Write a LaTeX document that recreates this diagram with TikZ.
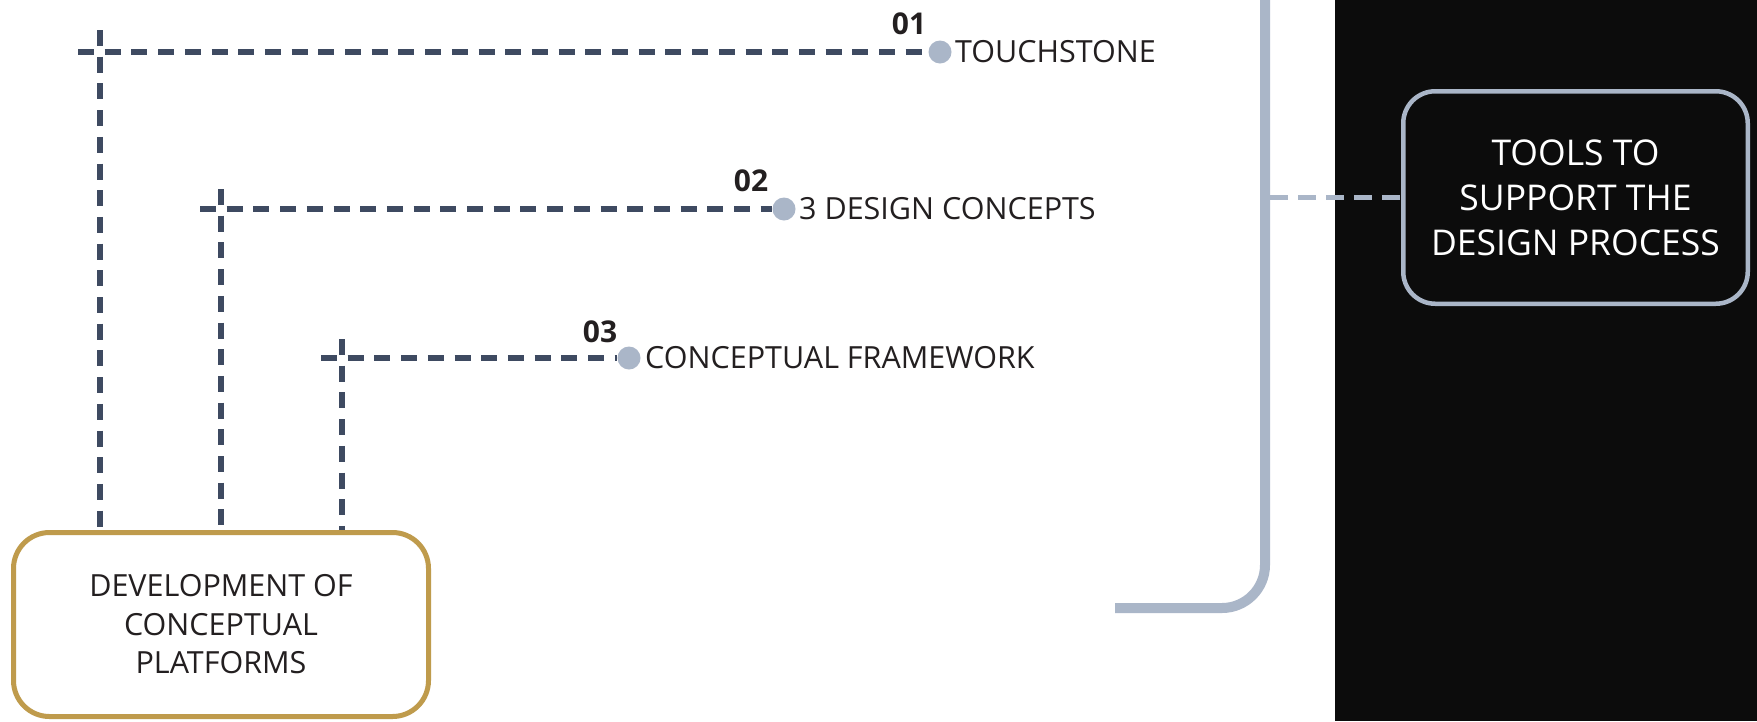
\documentclass[tikz,border=0pt]{standalone}
\usepackage{fontspec}
\setmainfont{Open Sans}
\usetikzlibrary{calc}
\definecolor{dashdark}{HTML}{3E4A61}
\definecolor{steel}{HTML}{AAB6C8}
\definecolor{gold}{HTML}{BF9B4C}
\definecolor{ink}{HTML}{231F20}
\definecolor{panel}{HTML}{0C0C0C}
\begin{document}
\begin{tikzpicture}[x=1pt,y=-1pt,
  darkdash/.style={draw=dashdark,line width=5.5pt,dash pattern=on 16pt off 10.7pt},
  steeldash/.style={draw=steel,line width=5pt,dash pattern=on 18pt off 10pt},
  steelline/.style={draw=steel,line width=10pt,rounded corners=43pt},
  dotnode/.style={circle,fill=steel,inner sep=0pt,minimum size=23pt},
  labnode/.style={anchor=west,inner sep=0pt,text=ink,font=\fontsize{30.5}{36}\selectfont},
  numnode/.style={inner sep=0pt,text=ink,font=\bfseries\fontsize{30}{36}\selectfont},
  devbox/.style={draw=gold,line width=5pt,fill=white,rounded corners=36pt,
    minimum width=415pt,minimum height=184pt,align=center,text=ink,
    font=\fontsize{30.5}{38.5}\selectfont},
  toolbox/.style={draw=steel,line width=4.5pt,fill=panel,rounded corners=32pt,
    minimum width=344.5pt,minimum height=212.5pt,align=center,text=white,
    font=\fontsize{35.5}{45}\selectfont}
]
\useasboundingbox (0,0) rectangle (1757,721);
\fill[white] (0,0) rectangle (1757,721);
\fill[panel] (1335,0) rectangle (1757,721);

% big steel bracket
\coordinate (gtop) at (1265,-10);
\coordinate (gcorner) at (1265,608);
\coordinate (gend) at (1115,608);
\draw[steelline] (gtop) -- (gcorner) -- (gend);

% nodes
\node[devbox] (dev) at (221,624.5) {DEVELOPMENT OF\\CONCEPTUAL\\PLATFORMS};
\node[toolbox] (tools) at (1575.5,197.5) {TOOLS TO\\SUPPORT THE\\DESIGN PROCESS};

\node[dotnode] (dot1) at (940,52) {};
\node[dotnode] (dot2) at (784,209) {};
\node[dotnode] (dot3) at (629,358) {};

\node[labnode] (lab1) at ($(dot1)+(15,0)$) {TOUCHSTONE};
\node[labnode] (lab2) at ($(dot2)+(15,0)$) {3 DESIGN CONCEPTS};
\node[labnode] (lab3) at ($(dot3)+(16,0)$) {CONCEPTUAL FRAMEWORK};

\node[numnode] (num1) at ($(dot1)+(-31,-28)$) {01};
\node[numnode] (num2) at ($(dot2)+(-33,-28)$) {02};
\node[numnode] (num3) at ($(dot3)+(-29,-26)$) {03};

% dashed connectors
\coordinate (h1) at (78,52);
\coordinate (v1) at (100,30);
\coordinate (h2) at (200,209);
\coordinate (v2) at (221,189);
\coordinate (h3) at (321,358);
\coordinate (v3) at (342,339);

\draw[darkdash] (h1) -- (dot1.west);
\draw[darkdash] (v1) -- (v1 |- dev.north);
\draw[darkdash] (h2) -- (dot2.west);
\draw[darkdash] (v2) -- (v2 |- dev.north);
\draw[darkdash] (h3) -- (dot3.west);
\draw[darkdash] (v3) -- (v3 |- dev.north);

\coordinate (gjoin) at (1270,197.5);
\draw[steeldash] (gjoin) -- (tools.west);
\end{tikzpicture}
\end{document}
